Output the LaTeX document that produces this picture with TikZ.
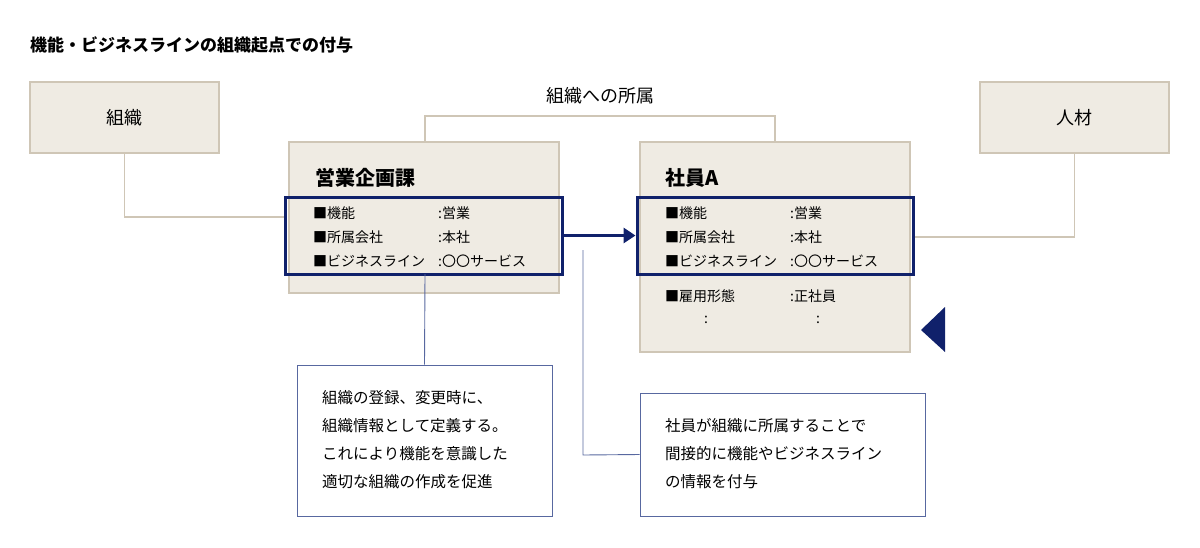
\documentclass[tikz,border=0pt]{standalone}
\usepackage{fontspec}
\usetikzlibrary{arrows.meta}
\setmainfont{Noto Sans CJK JP}
\definecolor{beige}{HTML}{EFEBE3}
\definecolor{beigeline}{HTML}{CFC6B6}
\definecolor{navy}{HTML}{10216B}
\definecolor{thin}{HTML}{5868A0}
\begin{document}
\begin{tikzpicture}[x=1pt,y=-1pt,
  bbox/.style={fill=beige,draw=beigeline,line width=1.2pt},
  frame/.style={draw=navy,line width=3pt},
  conn/.style={draw=beigeline,line width=1.3pt},
  call/.style={draw=thin,line width=0.9pt},
  note/.style={draw=thin,fill=white,line width=0.9pt},
  row/.style={anchor=west,inner sep=0,font=\fontsize{14}{16}\selectfont},
  txt/.style={anchor=west,inner sep=0,font=\fontsize{15.5}{18}\selectfont}]
\useasboundingbox (0,0) rectangle (1200,547);
\node[anchor=west,inner sep=0,font=\bfseries\fontsize{17}{20}\selectfont] (title) at (30,45) {機能・ビジネスラインの組織起点での付与};
% bracket
\coordinate (bl) at (425,142); \coordinate (br) at (775,142);
\draw[conn] (bl) -- (425,116) -- (775,116) -- (br);
\node[font=\fontsize{18}{20}\selectfont] (lbl) at (600,96) {組織への所属};
% outer boxes
\node[bbox,minimum width=189,minimum height=71,font=\fontsize{18}{20}\selectfont] (org) at (124.5,117.5) {組織};
\node[bbox,minimum width=189,minimum height=71,font=\fontsize{18}{20}\selectfont] (hr) at (1074.5,117.5) {人材};
\node[bbox,minimum width=270,minimum height=151] (dept) at (424,217.5) {};
\node[bbox,minimum width=270,minimum height=210] (emp) at (775,247) {};
% connectors
\coordinate (lj) at (285,217); \coordinate (rj) at (913,237);
\draw[conn] (org.south) -- (124.5,217) -- (lj);
\draw[conn] (hr.south) -- (1074.5,237) -- (rj);
% frames
\node[frame,minimum width=277,minimum height=77,inner sep=0] (f1) at (423.5,235.5) {};
\node[frame,minimum width=276,minimum height=77,inner sep=0] (f2) at (775,235.5) {};
\draw[navy,line width=3pt,-{Triangle[length=12pt,width=15pt]}] (f1.east) -- (f2.west);
% titles
\node[anchor=west,inner sep=0,font=\bfseries\fontsize{20}{22}\selectfont] (t1) at (315,178) {営業企画課};
\node[anchor=west,inner sep=0,font=\bfseries\fontsize{20}{22}\selectfont] (t2) at (665,178) {社員A};
% rows
\foreach \x/\v in {313/438,665/790}{
  \node[row] at (\x,213) {■機能};
  \node[row] at (\x,237) {■所属会社};
  \node[row] at (\x,261) {■ビジネスライン};
  \node[row] at (\v,213) {:営業};
  \node[row] at (\v,237) {:本社};
  \node[row] at (\v,261) {:〇〇サービス};
}
\node[row] (r4) at (665,296) {■雇用形態};
\node[row] (r4v) at (790,296) {:正社員};
\node[row] (d1) at (704,320) {:};
\node[row] (d2) at (816,320) {:};
% triangle
\fill[navy] (921,330) -- (945,307) -- (945,352) -- cycle;
% notes
\node[note,minimum width=255,minimum height=151] (n1) at (424.5,440.5) {};
\node[note,minimum width=285,minimum height=123] (n2) at (782.5,454.5) {};
\draw[call] (425,274) -- (n1.north);
\coordinate (c2) at (583,250);
\draw[call] (c2) -- (583,455) -- (n2.west);
\node[txt] at (322,398) {組織の登録、変更時に、};
\node[txt] at (322,426) {組織情報として定義する。};
\node[txt] at (322,454) {これにより機能を意識した};
\node[txt] at (322,482) {適切な組織の作成を促進};
\node[txt] at (665,426) {社員が組織に所属することで};
\node[txt] at (665,454) {間接的に機能やビジネスライン};
\node[txt] at (665,482) {の情報を付与};
\end{tikzpicture}
\end{document}
